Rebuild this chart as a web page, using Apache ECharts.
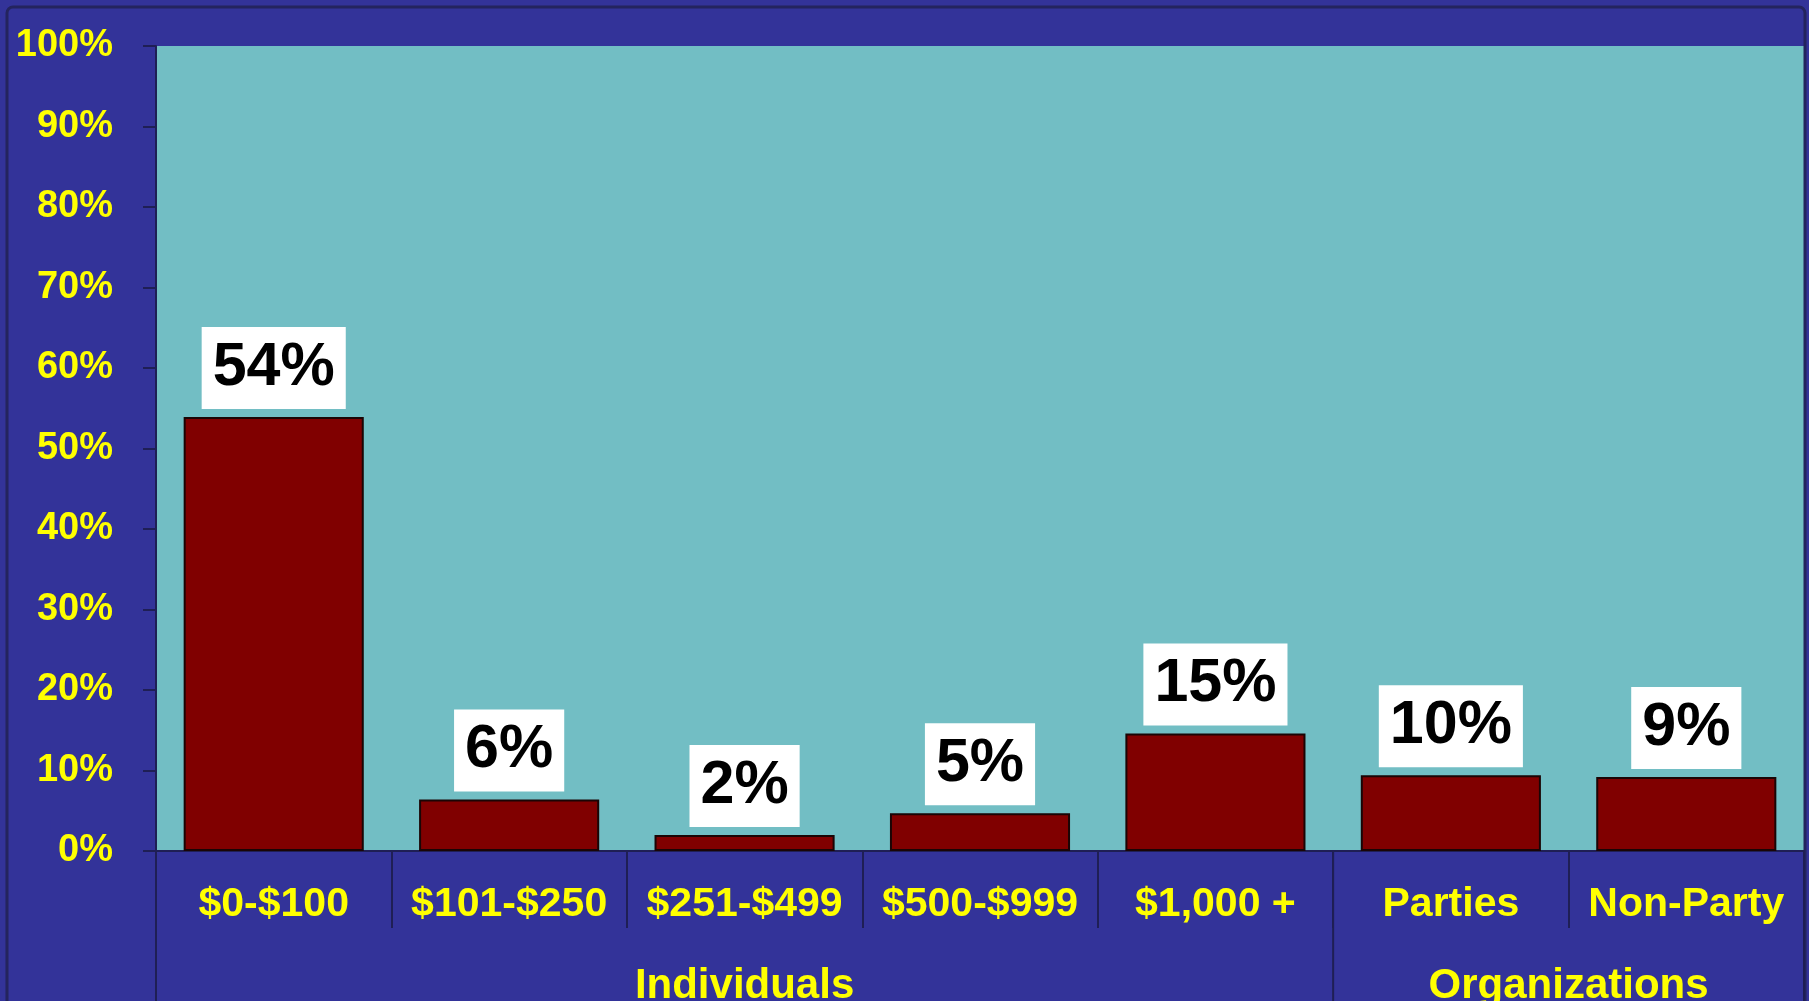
<!DOCTYPE html>
<html>
<head>
<meta charset="utf-8">
<title>Contributions by size</title>
<script src="https://cdn.jsdelivr.net/npm/echarts@6/dist/echarts.min.js"></script>
<style>
  html, body { margin: 0; padding: 0; background: #333399; }
  #main { width: 1809px; height: 1001px; }
</style>
</head>
<body>
<div id="main"></div>
<script>
// bar categories and heights (percent of total)
const categories = ["$0-$100", "$101-$250", "$251-$499", "$500-$999", "$1,000 +", "Parties", "Non-Party"];
const shares = [53.9, 6.4, 2.0, 4.7, 14.6, 9.4, 9.2];
// labels as printed on the chart
const shareLabels = ["54%", "6%", "2%", "5%", "15%", "10%", "9%"];

// grouping of the categories
const groups = ["Individuals", "Organizations"];
const groupStart = [0, 5];
const groupEnd = [4, 6];

const yMin = 0, yMax = 100, yStep = 10;

const FONT = "'Liberation Sans', Arial, sans-serif";
const YELLOW = "#ffff00";
const DARK = "#1f1f55";

var myChart = echarts.init(document.getElementById("main"));

var option = {
  animation: false,
  backgroundColor: "#333399",
  textStyle: { fontFamily: FONT },
  graphic: [
    {
      type: "rect",
      shape: { x: 7, y: 7, width: 1798, height: 1040, r: 6 },
      style: { fill: null, stroke: "#24245e", lineWidth: 3 },
      silent: true,
      z: 0
    }
  ],
  grid: {
    left: 156,
    right: 5,
    top: 46,
    bottom: 150,
    show: true,
    backgroundColor: "#72bec4",
    borderWidth: 0
  },
  xAxis: {
    type: "category",
    data: categories,
    axisLine: { show: true, lineStyle: { color: DARK, width: 2 } },
    axisTick: {
      show: true,
      interval: 0,
      length: 77,
      lineStyle: { color: DARK, width: 2 }
    },
    axisLabel: {
      interval: 0,
      color: YELLOW,
      fontFamily: FONT,
      fontWeight: "bold",
      fontSize: 41,
      margin: 33
    },
    splitLine: { show: false }
  },
  yAxis: {
    type: "value",
    min: yMin,
    max: yMax,
    interval: yStep,
    axisLine: { show: true, lineStyle: { color: DARK, width: 2 } },
    axisTick: { show: true, length: 13, lineStyle: { color: DARK, width: 2 } },
    axisLabel: {
      formatter: "{value}%",
      color: YELLOW,
      fontFamily: FONT,
      fontWeight: "bold",
      fontSize: 38,
      margin: 43
    },
    splitLine: { show: false }
  },
  series: [
    {
      type: "bar",
      data: shares,
      barCategoryGap: "23.5%",
      itemStyle: {
        color: "#800000",
        borderColor: "#1a0505",
        borderWidth: 2
      },
      label: {
        show: true,
        position: "top",
        distance: 8,
        formatter: function (p) {
          return shareLabels[p.dataIndex];
        },
        color: "#000000",
        fontFamily: FONT,
        fontWeight: "bold",
        fontSize: 61,
        lineHeight: 62,
        backgroundColor: "#ffffff",
        padding: [10, 11, 10, 11]
      },
      z: 3
    },
    {
      // group separators and group names under the category labels
      type: "custom",
      data: groups.map(function (g, i) { return [groupStart[i], groupEnd[i]]; }),
      encode: { x: [0, 1] },
      z: 4,
      renderItem: function (params, api) {
        var s = api.value(0);
        var e = api.value(1);
        var bw = api.size([1, 0])[0];
        var base = api.coord([s, 0]);
        var x0 = base[0] - bw / 2;
        var x1 = api.coord([e, 0])[0] + bw / 2;
        var y0 = base[1];
        var children = [
          {
            type: "line",
            shape: { x1: x0, y1: y0, x2: x0, y2: y0 + 160 },
            style: { stroke: DARK, lineWidth: 2 }
          },
          {
            type: "text",
            style: {
              text: groups[params.dataIndex],
              x: (x0 + x1) / 2,
              y: y0 + 135,
              align: "center",
              verticalAlign: "middle",
              fill: YELLOW,
              font: "bold 42px " + FONT
            }
          }
        ];
        if (params.dataIndex === groups.length - 1) {
          children.push({
            type: "line",
            shape: { x1: x1, y1: y0, x2: x1, y2: y0 + 160 },
            style: { stroke: DARK, lineWidth: 2 }
          });
        }
        return { type: "group", children: children };
      }
    }
  ]
};

option && myChart.setOption(option);
</script>
</body>
</html>
